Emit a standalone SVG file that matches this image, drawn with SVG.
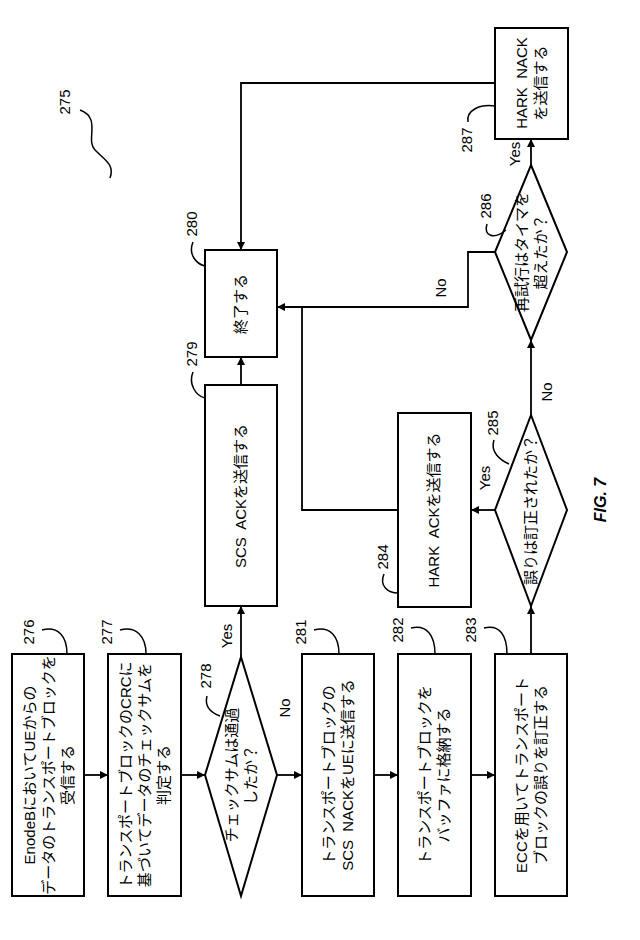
<svg xmlns="http://www.w3.org/2000/svg" width="640" height="940" viewBox="0 0 640 940">
<defs>
<marker id="ah" viewBox="0 0 10 10" refX="10" refY="5" markerWidth="8" markerHeight="8" markerUnits="userSpaceOnUse" orient="auto"><path d="M0,0 L10,5 L0,10 z" fill="#000"/></marker>
<style>
.n{fill:#fff;stroke:#000;stroke-width:2}
.t{font-family:"Liberation Sans","Noto Sans CJK JP",sans-serif;font-size:15px;fill:#000;text-anchor:middle;white-space:pre}
.l{font-family:"Liberation Sans",sans-serif;font-size:15px;fill:#000;text-anchor:middle}
.c{fill:none;stroke:#000;stroke-width:1.8}
.r{fill:none;stroke:#000;stroke-width:1.5}
</style>
</defs>
<rect width="640" height="940" fill="#fff"/>
<g id="connectors">
<path class="c" d="M84,775 H108" marker-end="url(#ah)"/>
<path class="c" d="M181,775 H205" marker-end="url(#ah)"/>
<path class="c" d="M277,775 H302" marker-end="url(#ah)"/>
<path class="c" d="M374,775 H398" marker-end="url(#ah)"/>
<path class="c" d="M471,775 H495" marker-end="url(#ah)"/>
<path class="c" d="M241,657 V606" marker-end="url(#ah)"/>
<path class="c" d="M241,385 V357" marker-end="url(#ah)"/>
<path class="c" d="M531,654 V606" marker-end="url(#ah)"/>
<path class="c" d="M495,510 H471" marker-end="url(#ah)"/>
<path class="c" d="M531,415 V340" marker-end="url(#ah)"/>
<path class="c" d="M531,165 V139" marker-end="url(#ah)"/>
<path class="c" d="M398,510 H302 V307"/>
<path class="c" d="M495,252 H468 V307 H277" marker-end="url(#ah)"/>
<path class="c" d="M495,83 H241 V250" marker-end="url(#ah)"/>
<text class="l" transform="translate(232,636) rotate(-90)">Yes</text>
<text class="l" transform="translate(290,708) rotate(-90)">No</text>
<text class="l" transform="translate(490,478) rotate(-90)">Yes</text>
<text class="l" transform="translate(552,392) rotate(-90)">No</text>
<text class="l" transform="translate(446,288) rotate(-90)">No</text>
<text class="l" transform="translate(520,154) rotate(-90)">Yes</text>
</g>
<g id="n275">
<text class="l" transform="translate(70,102) rotate(-90)">275</text>
<path class="r" d="M80,110 C102,118 85,140 95,150 C105,160 115,165 110,178"/>
</g>
<g id="n276">
<rect class="n" x="12" y="654" width="72" height="242"/>
<text class="t" transform="translate(48,775) rotate(-90)"><tspan x="0" dy="-13">EnodeBにおいてUEからの</tspan><tspan x="0" dy="19">データのトランスポートブロックを</tspan><tspan x="0" dy="19">受信する</tspan></text>
<text class="l" transform="translate(34,632) rotate(-90)">276</text>
<path class="r" d="M42,630 C58,626 67,636 67,654"/>
</g>
<g id="n277">
<rect class="n" x="108" y="654" width="73" height="242"/>
<text class="t" transform="translate(144,775) rotate(-90)"><tspan x="0" dy="-13">トランスポートブロックのCRCに</tspan><tspan x="0" dy="19">基づいてデータのチェックサムを</tspan><tspan x="0" dy="19">判定する</tspan></text>
<text class="l" transform="translate(112,632) rotate(-90)">277</text>
<path class="r" d="M120,630 C136,626 146,636 146,654"/>
</g>
<g id="n278">
<path class="n" d="M241,657 L277,775 L241,896 L205,775 z"/>
<text class="t" transform="translate(241,775) rotate(-90)"><tspan x="0" dy="-4">チェックサムは通過</tspan><tspan x="0" dy="19">したか？</tspan></text>
<text class="l" transform="translate(211,676) rotate(-90)">278</text>
<path class="r" d="M207,696 C204,707 212,713 220,716"/>
</g>
<g id="n279">
<rect class="n" x="205" y="385" width="72" height="221"/>
<text class="t" transform="translate(246,496) rotate(-90)">SCS  ACKを送信する</text>
<text class="l" transform="translate(197,354) rotate(-90)">279</text>
<path class="r" d="M193,372 C188,384 196,396 205,398"/>
</g>
<g id="n280">
<rect class="n" x="205" y="250" width="72" height="107"/>
<text class="t" transform="translate(246,304) rotate(-90)">終了する</text>
<text class="l" transform="translate(197,224) rotate(-90)">280</text>
<path class="r" d="M193,242 C188,254 196,264 205,266"/>
</g>
<g id="n281">
<rect class="n" x="302" y="654" width="72" height="242"/>
<text class="t" transform="translate(338,775) rotate(-90)"><tspan x="0" dy="-4">トランスポートブロックの</tspan><tspan x="0" dy="19">SCS  NACKをUEに送信する</tspan></text>
<text class="l" transform="translate(306,632) rotate(-90)">281</text>
<path class="r" d="M314,630 C330,626 339,636 339,654"/>
</g>
<g id="n282">
<rect class="n" x="398" y="654" width="73" height="242"/>
<text class="t" transform="translate(434,775) rotate(-90)"><tspan x="0" dy="-4">トランスポートブロックを</tspan><tspan x="0" dy="19">バッファに格納する</tspan></text>
<text class="l" transform="translate(403,630) rotate(-90)">282</text>
<path class="r" d="M411,628 C427,624 435,636 435,654"/>
</g>
<g id="n283">
<rect class="n" x="495" y="654" width="72" height="242"/>
<text class="t" transform="translate(531,775) rotate(-90)"><tspan x="0" dy="-4">ECCを用いてトランスポート</tspan><tspan x="0" dy="19">ブロックの誤りを訂正する</tspan></text>
<text class="l" transform="translate(476,630) rotate(-90)">283</text>
<path class="r" d="M484,628 C500,624 507,636 507,654"/>
</g>
<g id="n284">
<rect class="n" x="398" y="413" width="73" height="194"/>
<text class="t" transform="translate(439,510) rotate(-90)">HARK  ACKを送信する</text>
<text class="l" transform="translate(388,557) rotate(-90)">284</text>
<path class="r" d="M384,574 C379,586 388,593 398,593"/>
</g>
<g id="n285">
<path class="n" d="M531,415 L567,510 L531,606 L495,510 z"/>
<text class="t" transform="translate(536,510) rotate(-90)">誤りは訂正されたか？</text>
<text class="l" transform="translate(498,423) rotate(-90)">285</text>
<path class="r" d="M494,440 C490,452 500,460 509,464"/>
</g>
<g id="n286">
<path class="n" d="M531,165 L567,252 L531,340 L495,252 z"/>
<text class="t" transform="translate(531,252) rotate(-90)"><tspan x="0" dy="-4">再試行はタイマを</tspan><tspan x="0" dy="19">超えたか？</tspan></text>
<text class="l" transform="translate(491,206) rotate(-90)">286</text>
<path class="r" d="M487,224 C483,236 494,240 506,230"/>
</g>
<g id="n287">
<rect class="n" x="495" y="28" width="73" height="111"/>
<text class="t" transform="translate(531,83) rotate(-90)"><tspan x="0" dy="-4">HARK  NACK</tspan><tspan x="0" dy="19">を送信する</tspan></text>
<text class="l" transform="translate(472,140) rotate(-90)">287</text>
<path class="r" d="M468,122 C466,110 480,104 495,106"/>
</g>
<text font-family="Liberation Sans,sans-serif" font-size="16" font-weight="bold" font-style="italic" text-anchor="middle" transform="translate(606,500) rotate(-90)">FIG. 7</text>
</svg>
